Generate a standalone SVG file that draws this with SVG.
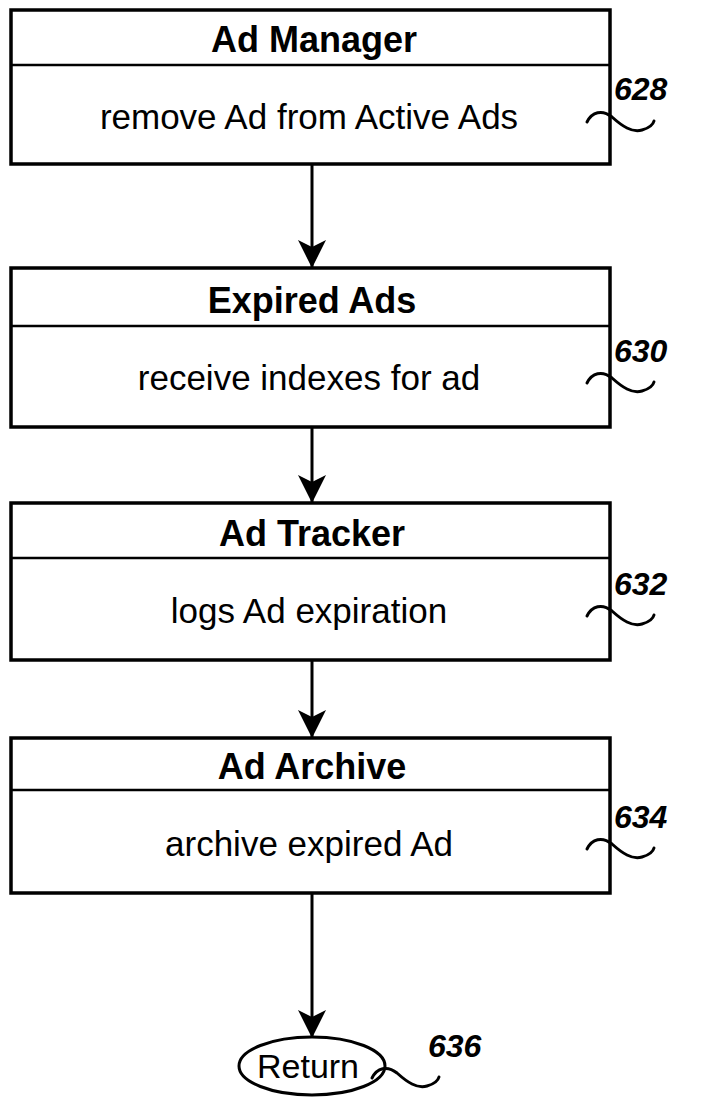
<svg xmlns="http://www.w3.org/2000/svg" width="703" height="1106" viewBox="0 0 703 1106">
<defs>
<style>
.box{fill:#fff;stroke:#000;stroke-width:3.5}
.div{stroke:#000;stroke-width:2.5}
.title{font-family:"Liberation Sans",Arial,sans-serif;font-weight:bold;font-size:36px;text-anchor:middle}
.body{font-family:"Liberation Sans",Arial,sans-serif;font-size:35px;text-anchor:middle}
.rt{font-family:"Liberation Sans",Arial,sans-serif;font-size:34px;text-anchor:middle}
.ref{font-family:"Liberation Sans",Arial,sans-serif;font-weight:bold;font-style:italic;font-size:32px}
.sq{fill:none;stroke:#000;stroke-width:3;stroke-linecap:round}
.conn{stroke:#000;stroke-width:3;fill:none}
</style>
<marker id="ah" viewBox="0 0 28 28" refX="27" refY="14" markerWidth="28" markerHeight="28" markerUnits="userSpaceOnUse" orient="auto">
<path d="M0,0 L28,14 L0,28 L7,14 Z" fill="#000"/>
</marker>
<path id="sqp" class="sq" d="M0,10 C5,0 15,-3 25,5 C35,14 45,21 55,18 C62,16 66,13 67,9"/>
</defs>
<g id="connectors">
<line class="conn" x1="312" y1="164" x2="312" y2="267" marker-end="url(#ah)"/>
<line class="conn" x1="312" y1="427" x2="312" y2="502" marker-end="url(#ah)"/>
<line class="conn" x1="312" y1="660" x2="312" y2="737" marker-end="url(#ah)"/>
<line class="conn" x1="312" y1="893" x2="312" y2="1037" marker-end="url(#ah)"/>
</g>
<g id="n628">
<rect class="box" x="11" y="10" width="599" height="154"/>
<line class="div" x1="11" y1="65" x2="610" y2="65"/>
<text class="title" x="314" y="52">Ad Manager</text>
<text class="body" x="309" y="129">remove Ad from Active Ads</text>
<use href="#sqp" x="587" y="112"/>
<text class="ref" x="614" y="100">628</text>
</g>
<g id="n630">
<rect class="box" x="11" y="268" width="599" height="159"/>
<line class="div" x1="11" y1="326" x2="610" y2="326"/>
<text class="title" x="312" y="313">Expired Ads</text>
<text class="body" x="309" y="390">receive indexes for ad</text>
<use href="#sqp" x="587" y="373"/>
<text class="ref" x="614" y="362">630</text>
</g>
<g id="n632">
<rect class="box" x="11" y="503" width="599" height="157"/>
<line class="div" x1="11" y1="558" x2="610" y2="558"/>
<text class="title" x="312" y="546">Ad Tracker</text>
<text class="body" x="309" y="623">logs Ad expiration</text>
<use href="#sqp" x="587" y="606"/>
<text class="ref" x="614" y="595">632</text>
</g>
<g id="n634">
<rect class="box" x="11" y="738" width="599" height="155"/>
<line class="div" x1="11" y1="790" x2="610" y2="790"/>
<text class="title" x="312" y="779">Ad Archive</text>
<text class="body" x="309" y="856">archive expired Ad</text>
<use href="#sqp" x="587" y="839"/>
<text class="ref" x="614" y="828">634</text>
</g>
<g id="n636">
<ellipse cx="312" cy="1066" rx="73" ry="29" fill="#fff" stroke="#000" stroke-width="3"/>
<text class="rt" x="308" y="1078">Return</text>
<use href="#sqp" x="372" y="1068"/>
<text class="ref" x="428" y="1057">636</text>
</g>
</svg>
